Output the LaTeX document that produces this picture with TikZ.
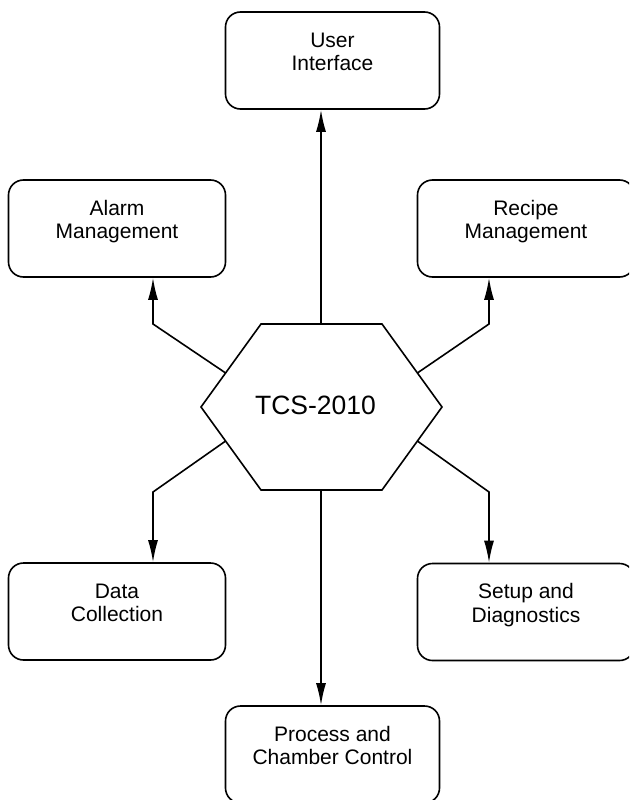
\documentclass[tikz,border=0pt]{standalone}
\usepackage{fontspec}
\setmainfont{Liberation Sans}
\usetikzlibrary{arrows.meta}
\usetikzlibrary{calc}

\begin{document}
\begin{tikzpicture}
    [
    x=1pt,y=-1pt,
    module/.style={draw,line width=1.6pt,rounded corners=15pt,align=center,
      minimum height=97pt,inner sep=0pt,text height=38pt,text depth=18pt,
      font=\fontsize{21}{23.5}\selectfont},
    side/.style={module,minimum width=217pt},
    mid/.style={module,minimum width=214pt},
    link/.style={line width=1.6pt,-{Latex[length=22pt,width=10pt]}},
    ]
    \useasboundingbox (0,0) rectangle (629,800);
    \clip (0,0) rectangle (629,800);

    % the six modules
    \node (ui) at (332.5,60.5) [mid] {User\\Interface};
    \node (alarm) at (117,228.5) [side] {Alarm\\Management};
    \node (recipe) at (526,228.5) [side] {Recipe\\Management};
    \node (data) at (117,611.5) [side] {Data\\Collection};
    \node (setup) at (526,612) [side] {Setup and\\Diagnostics};
    \node (proc) at (332.5,754.5) [mid] {Process and\\Chamber Control};

    % hexagon in the middle
    \coordinate (h1) at (201,407);
    \coordinate (h2) at (261,324);
    \coordinate (h3) at (382,324);
    \coordinate (h4) at (442,407);
    \coordinate (h5) at (382,490);
    \coordinate (h6) at (261,490);
    \draw [line width=1.6pt,line join=miter] (h1) -- (h2) -- (h3) -- (h4) -- (h5) -- (h6) -- cycle;
    \node (tcs) at (315.5,405.5) [font=\fontsize{26.5}{30}\selectfont] {TCS-2010};

    \coordinate (ht) at (321,324);
    \coordinate (hb) at (321,490);
    \coordinate (c1) at ($(h1)!0.41!(h2)$);
    \coordinate (c2) at ($(h1)!0.41!(h6)$);
    \coordinate (c3) at ($(h4)!0.41!(h3)$);
    \coordinate (c4) at ($(h4)!0.41!(h5)$);
    \coordinate (b1) at (153,324);
    \coordinate (b2) at (153,492);
    \coordinate (b3) at (489,324);
    \coordinate (b4) at (489,492);

    \draw [link] (ht) -- (ht |- ui.south);
    \draw [link] (hb) -- (hb |- proc.north);
    \draw [link] (c1) -- (b1) -- (b1 |- alarm.south);
    \draw [link] (c2) -- (b2) -- (b2 |- data.north);
    \draw [link] (c3) -- (b3) -- (b3 |- recipe.south);
    \draw [link] (c4) -- (b4) -- (b4 |- setup.north);
\end{tikzpicture}
\end{document}
